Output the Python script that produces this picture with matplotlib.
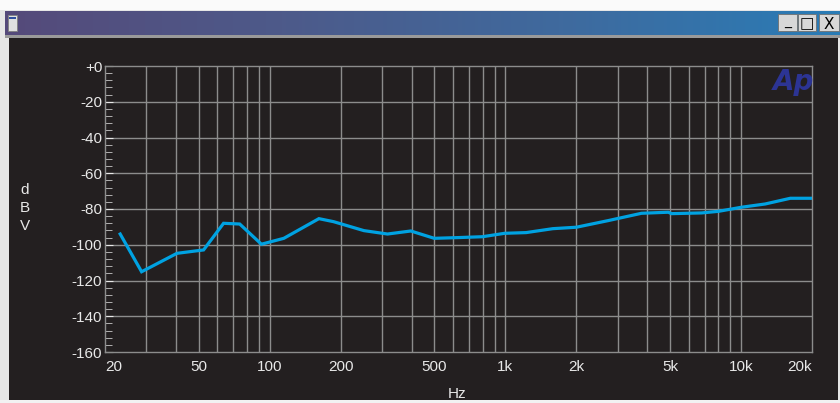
import numpy as np
import matplotlib
matplotlib.use("Agg")
import matplotlib.pyplot as plt
from matplotlib.patches import Rectangle
from matplotlib.colors import LinearSegmentedColormap
from matplotlib.ticker import FixedLocator, NullFormatter

plt.rcParams['font.family'] = ['Liberation Sans', 'DejaVu Sans']

# data
freq = [23.2, 28.6, 40.4, 52.4, 63.7, 74.6, 92.2, 114.8, 161.7, 186.8, 251, 316,
        397, 499, 628, 800, 992, 1225, 1590, 2000, 2728, 3780, 4910, 5070, 6800,
        8020, 10060, 12650, 16180, 20000]
level = [-94.0, -115.1, -104.8, -102.9, -88.0, -88.4, -99.7, -96.4, -85.4, -87.1,
         -92.1, -94.0, -92.3, -96.4, -96.0, -95.5, -93.6, -93.2, -91.0, -90.2,
         -86.5, -82.4, -81.8, -82.6, -82.2, -81.3, -79.0, -77.2, -74.0, -74.0]
xtick_vals = [20, 50, 100, 200, 500, 1000, 2000, 5000, 10000, 20000]
xtick_labels = ['20', '50', '100', '200', '500', '1k', '2k', '5k', '10k', '20k']
ytick_vals = [0, -20, -40, -60, -80, -100, -120, -140, -160]
ytick_labels = ['+0', '-20', '-40', '-60', '-80', '-100', '-120', '-140', '-160']

W, H = 840, 403
fig = plt.figure(figsize=(W / 100, H / 100), dpi=100, facecolor='#e6e6e6')


def box(x0, y0, w, h):
    return (x0 / W, 1 - (y0 + h) / H, w / W, h / H)


def rect(x0, y0, w, h, color, z=-10, **kw):
    l, b, ww, hh = box(x0, y0, w, h)
    fig.add_artist(Rectangle((l, b), ww, hh, transform=fig.transFigure,
                             facecolor=color, edgecolor=kw.pop('ec', 'none'),
                             zorder=z, **kw))


# window chrome
rect(0, 0, W, 10, '#fafafa')
rect(5, 35, W - 5, 3, '#9a9a9a')
rect(9, 38, 829, 362, '#231f20')
rect(0, 400, W, 3, '#f2f2f2')

tb = fig.add_axes(box(5, 11, W - 5, 24))
grad = np.linspace(0, 1, 256)[None, :]
cm = LinearSegmentedColormap.from_list('tb', ['#554a7a', '#4d5a8a', '#3f6a9e', '#2a7cb6'])
tb.imshow(grad, aspect='auto', cmap=cm, extent=[0, 1, 0, 1])
tb.set_axis_off()

# window icon
rect(8, 15, 9, 16, '#e0e0e0', z=5, ec='#808080', lw=0.6)
rect(9, 17, 7, 2, '#3050a0', z=6)

# buttons
for bx, bw, sym in [(778, 19, '_'), (798, 18, '□'), (819, 20, 'X')]:
    rect(bx, 14, bw, 17, '#d8d8d8', z=5, ec='#707070', lw=0.6)
    l, b, ww, hh = box(bx, 14, bw, 17)
    fig.text(l + ww / 2, b + hh / 2 - (0.004 if sym != '_' else 0.0), sym,
             ha='center', va='center', fontsize=11 if sym != '_' else 10,
             color='black', family=['DejaVu Sans'], zorder=6)

# plot area
ax = fig.add_axes(box(105, 66, 707, 286))
ax.set_facecolor('#231f20')
ax.plot(freq, level, color='#00a2e2', lw=2.3, solid_joinstyle='miter', zorder=3)
ax.set_xscale('log')
ax.set_xlim(20, 20000)
ax.set_ylim(-160, 0)

grid_x = [f * d for d in (10, 100, 1000) for f in range(2, 11)] + [20000]
grid_x = sorted(set(v for v in grid_x if 20 < v < 20000))
for gx in grid_x:
    ax.axvline(gx, color='#8c8c8c', lw=1.0, zorder=1)
for gy in ytick_vals[1:-1]:
    ax.axhline(gy, color='#8c8c8c', lw=1.0, zorder=1)

for sp in ax.spines.values():
    sp.set_color('#8c8c8c')
    sp.set_linewidth(1.0)

ax.xaxis.set_major_locator(FixedLocator(xtick_vals))
ax.xaxis.set_minor_locator(FixedLocator([]))
ax.xaxis.set_minor_formatter(NullFormatter())
ax.set_xticklabels(xtick_labels)
ax.tick_params(axis='x', length=0, pad=6, colors='#e8e8e8', labelsize=11)
xl = ax.get_xticklabels()
xl[0].set_horizontalalignment('left')
xl[-1].set_horizontalalignment('right')
ax.set_xticklabels(xl)
ax.get_xticklabels()[0].set_ha('left')
ax.get_xticklabels()[-1].set_ha('right')

ax.set_yticks(ytick_vals)
ax.set_yticklabels(ytick_labels)
ax.yaxis.set_minor_locator(FixedLocator(np.arange(-160, 1, 4)))
ax.tick_params(axis='y', which='major', direction='in', length=6, color='#e8e8e8',
               labelcolor='#e8e8e8', labelsize=11, pad=2)
ax.tick_params(axis='y', which='minor', direction='in', length=5, color='#c8c8c8')

# axis titles
for i, ch in enumerate('dBV'):
    fig.text(25 / W, 1 - (190 + 18 * i) / H, ch, ha='center', va='center',
             fontsize=11, color='#e8e8e8')
fig.text(457 / W, 1 - 394 / H, 'Hz', ha='center', va='center', fontsize=11,
         color='#e8e8e8')

# Ap logo
fig.text(793 / W, 1 - 82 / H, 'Ap', ha='center', va='center', fontsize=20,
         fontweight='bold', style='italic', color='#2c3494', family=['DejaVu Sans'])

fig.savefig('out.png', dpi=100, facecolor=fig.get_facecolor())
